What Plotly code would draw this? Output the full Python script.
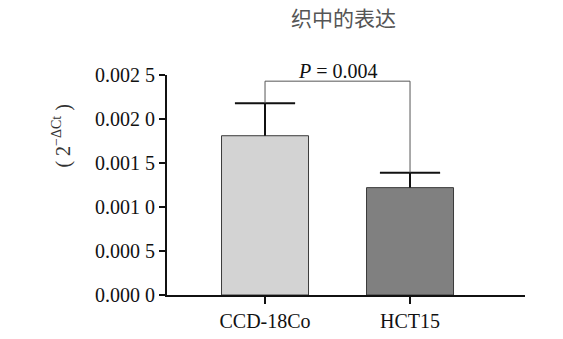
import plotly.graph_objects as go

categories = ["CCD-18Co", "HCT15"]
means = [0.00181, 0.00122]
errors = [0.00037, 0.00017]
bar_colors = ["#d3d3d3", "#808080"]
y_tickvals = [0, 0.0005, 0.001, 0.0015, 0.002, 0.0025]
y_ticktext = ["0.000 0", "0.000 5", "0.001 0", "0.001 5", "0.002 0", "0.002 5"]
p_text = "<i>P</i> = 0.004"
y_label = "( 2<sup>−ΔCt</sup> )"
bracket_top = 0.00243

serif = "Liberation Serif"

fig = go.Figure()
fig.add_trace(go.Bar(
    x=[0, 1], y=means, width=0.6,
    marker=dict(color=bar_colors, line=dict(color="#3a3a3a", width=1)),
    showlegend=False, hoverinfo="skip",
))

# upward error bars: stems and caps
tops = [m + e for m, e in zip(means, errors)]
stem_x, stem_y = [], []
for i, (m, t) in enumerate(zip(means, tops)):
    stem_x += [i, i, None]
    stem_y += [m, t, None]
fig.add_trace(go.Scatter(x=stem_x, y=stem_y, mode="lines",
                         line=dict(color="#111111", width=2), showlegend=False, hoverinfo="skip"))
fig.add_trace(go.Scatter(x=[0, 1], y=tops, mode="markers",
                         marker=dict(symbol="line-ew", size=43, line=dict(color="#111111", width=2)),
                         showlegend=False, hoverinfo="skip"))

# significance bracket
fig.add_shape(type="line", x0=0, x1=0, y0=tops[0], y1=bracket_top, line=dict(color="#555555", width=1))
fig.add_shape(type="line", x0=0, x1=1, y0=bracket_top, y1=bracket_top, line=dict(color="#555555", width=1))
fig.add_shape(type="line", x0=1, x1=1, y0=tops[1], y1=bracket_top, line=dict(color="#555555", width=1))
fig.add_annotation(x=0.5, y=bracket_top, text=p_text, showarrow=False, yanchor="bottom",
                   yshift=-3, font=dict(family=serif, size=20, color="#111111"))

fig.add_annotation(x=0.492, y=1.0, xref="paper", yref="paper", yanchor="middle",
                   xanchor="center", yshift=58, text="织中的表达", showarrow=False,
                   font=dict(family="Noto Sans CJK SC", size=21, color="#555555"))

fig.add_annotation(x=0, y=0.0018, xref="paper", yref="y", xanchor="center", yanchor="middle",
                   xshift=-105, text=y_label, textangle=-90, showarrow=False,
                   font=dict(family=serif, size=20, color="#333333"))

fig.update_layout(
    width=563, height=339,
    margin=dict(l=167, r=38, t=75, b=44),
    paper_bgcolor="white", plot_bgcolor="white",
    xaxis=dict(range=[-0.676, 1.793], tickvals=[0, 1], ticktext=categories,
               ticks="outside", ticklen=7, tickwidth=2, tickcolor="#111111",
               showline=True, linecolor="#111111", linewidth=2, showgrid=False,
               zeroline=False, fixedrange=True, automargin=False,
               tickfont=dict(family=serif, size=20, color="#111111")),
    yaxis=dict(range=[0, 0.0025], tickvals=y_tickvals, ticktext=y_ticktext,
               ticks="outside", ticklen=6, tickwidth=2, tickcolor="#111111",
               showline=True, linecolor="#111111", linewidth=2, showgrid=False,
               zeroline=False, automargin=False,
               tickfont=dict(family=serif, size=20, color="#111111")),
)
fig.write_html("out.html")
